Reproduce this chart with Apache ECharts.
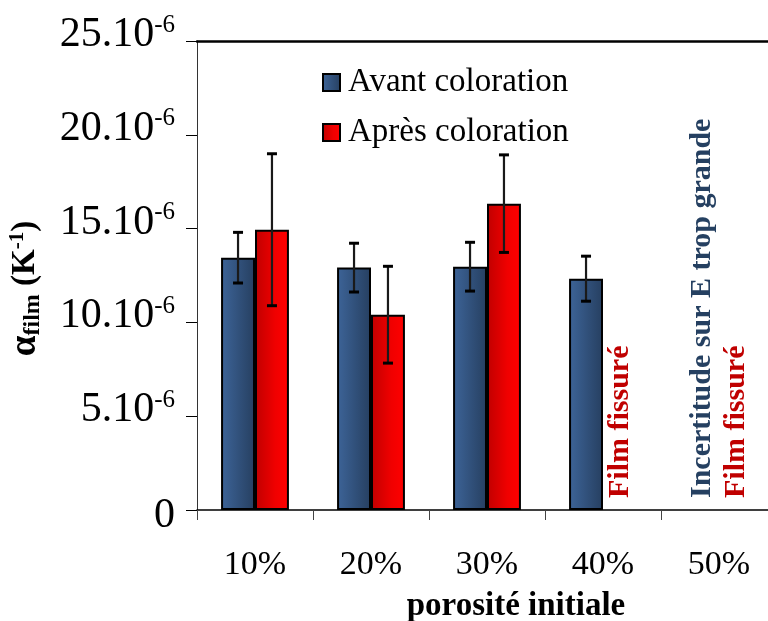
<!DOCTYPE html>
<html>
<head>
<meta charset="utf-8">
<script src="https://cdn.jsdelivr.net/npm/echarts@6/dist/echarts.min.js"></script>
<style>
  html, body { margin: 0; padding: 0; background: #fff; }
  #chart { width: 768px; height: 621px; }
</style>
</head>
<body>
<div id="chart"></div>
<script>
// Porosity classes on the x axis
const categories = ['10%', '20%', '30%', '40%', '50%'];
// Thermal expansion coefficient of the film, in units of 1e-6 K^-1
const avantValues = [13.45, 12.92, 12.97, 12.33, null];
const avantErrors = [1.35, 1.3, 1.3, 1.2, null];
const apresValues = [14.94, 10.41, 16.33, null, null];
const apresErrors = [4.05, 2.58, 2.6, null, null];
// Y axis ticks (1e-6 K^-1)
const yTicks = [0, 5, 10, 15, 20, 25];
// Notes written in place of missing bars: [category index, series (0 avant / 1 après), text, colour]
const notes = [
  [3, 1, 'Film fissuré', '#c00000'],
  [4, 0, 'Incertitude sur E trop grande', '#254061'],
  [4, 1, 'Film fissuré', '#c00000']
];

const SERIF = "'Liberation Serif', 'Times New Roman', serif";
const CAT_GAP = 0.415;          // share of each category left empty
const chart = echarts.init(document.getElementById('chart'));

// horizontal offset of a bar centre inside its category (series 0 left, 1 right)
function barOffset(api, seriesIdx) {
  const band = api.size([1, 0])[0];
  const bw = band * (1 - CAT_GAP) / 2;
  return (seriesIdx === 0 ? -1 : 1) * bw / 2;
}

function errorData(values, errs) {
  const out = [];
  values.forEach((v, i) => {
    if (v != null && errs[i] != null) out.push([i, v - errs[i], v + errs[i]]);
  });
  return out;
}

function errorSeries(values, errs, seriesIdx) {
  return {
    type: 'custom',
    z: 10,
    silent: true,
    data: errorData(values, errs),
    renderItem: function (params, api) {
      const off = barOffset(api, seriesIdx);
      const lo = api.coord([api.value(0), api.value(1)]);
      const hi = api.coord([api.value(0), api.value(2)]);
      const x = lo[0] + off;
      const cap = 5;
      return {
        type: 'group',
        children: [
          { type: 'line', shape: { x1: x, y1: lo[1], x2: x, y2: hi[1] },
            style: { stroke: '#1a1a1a', lineWidth: 2.2 } },
          { type: 'line', shape: { x1: x - cap, y1: lo[1], x2: x + cap, y2: lo[1] },
            style: { stroke: '#000', lineWidth: 3 } },
          { type: 'line', shape: { x1: x - cap, y1: hi[1], x2: x + cap, y2: hi[1] },
            style: { stroke: '#000', lineWidth: 3 } }
        ]
      };
    }
  };
}

const blueFill = new echarts.graphic.LinearGradient(0, 0, 1, 0, [
  { offset: 0, color: '#3d6498' }, { offset: 1, color: '#263f60' }
]);
const redFill = new echarts.graphic.LinearGradient(0, 0, 1, 0, [
  { offset: 0, color: '#c00000' }, { offset: 0.6, color: '#f00000' }, { offset: 1, color: '#ff0000' }
]);

const option = {
  animation: false,
  backgroundColor: '#fff',
  grid: { left: 197, top: 41, bottom: 111, right: -9, containLabel: false, outerBoundsMode: 'none' },
  legend: {
    orient: 'vertical',
    left: 317,
    top: 61,
    itemWidth: 17,
    itemHeight: 17,
    itemGap: 17,
    icon: 'rect',
    data: ['Avant coloration', 'Après coloration'],
    textStyle: { fontFamily: SERIF, fontSize: 33, color: '#000', lineHeight: 30, padding: [0, 0, 0, 3] }
  },
  xAxis: [{
    type: 'category',
    data: categories,
    axisLine: { lineStyle: { color: '#000', width: 1.5 } },
    axisTick: { show: true, length: 10, lineStyle: { color: '#444', width: 1 } },
    axisLabel: { fontFamily: SERIF, fontSize: 34, color: '#000', margin: 38 },
    name: 'porosité initiale',
    nameLocation: 'middle',
    nameGap: 80,
    nameTextStyle: { fontFamily: SERIF, fontSize: 33, fontWeight: 'bold', color: '#000', padding: [0, 0, 0, 58] }
  }, {
    type: 'category',
    position: 'top',
    data: categories,
    axisLine: { lineStyle: { color: '#000', width: 2.5 } },
    axisTick: { show: false },
    axisLabel: { show: false }
  }],
  yAxis: {
    type: 'value',
    min: yTicks[0],
    max: yTicks[yTicks.length - 1],
    interval: yTicks[1] - yTicks[0],
    splitLine: { show: false },
    axisLine: { show: true, lineStyle: { color: '#333', width: 1 } },
    axisTick: { show: true, length: 11, lineStyle: { color: '#000', width: 1 } },
    axisLabel: {
      margin: 22,
      formatter: function (v) {
        return v === 0 ? '{z|0}' : '{n|' + v + '.10}{s|-6}';
      },
      rich: {
        z: { fontFamily: SERIF, fontSize: 42, color: '#000', padding: [12, 0, 0, 0] },
        n: { fontFamily: SERIF, fontSize: 42, color: '#000', padding: [0, 0, 12, 0] },
        s: { fontFamily: SERIF, fontSize: 25, color: '#000', padding: [0, 0, 32, 0] }
      }
    },
    name: '{a|α}{f|film}{b| (K}{e|-1}{b|)}',
    nameLocation: 'middle',
    nameRotate: 90,
    nameGap: 152,
    nameTextStyle: {
      padding: [0, 26, 0, 0],
      rich: {
        a: { fontFamily: SERIF, fontSize: 37, fontWeight: 'bold', color: '#000' },
        f: { fontFamily: SERIF, fontSize: 24, fontWeight: 'bold', color: '#000', padding: [15, 0, 0, 0] },
        b: { fontFamily: SERIF, fontSize: 33, fontWeight: 'bold', color: '#000' },
        e: { fontFamily: SERIF, fontSize: 21, fontWeight: 'bold', color: '#000', padding: [0, 0, 15, 0] }
      }
    }
  },
  series: [
    {
      name: 'Avant coloration',
      type: 'bar',
      data: avantValues,
      barGap: '0%',
      barCategoryGap: (CAT_GAP * 100) + '%',
      itemStyle: { color: blueFill, borderColor: '#000', borderWidth: 2 }
    },
    {
      name: 'Après coloration',
      type: 'bar',
      data: apresValues,
      barGap: '0%',
      barCategoryGap: (CAT_GAP * 100) + '%',
      itemStyle: { color: redFill, borderColor: '#000', borderWidth: 2 }
    },
    errorSeries(avantValues, avantErrors, 0),
    errorSeries(apresValues, apresErrors, 1),
    {
      type: 'custom',
      silent: true,
      data: notes.map(n => [n[0], n[1]]),
      renderItem: function (params, api) {
        const n = notes[params.dataIndex];
        const base = api.coord([api.value(0), 0]);
        const x = base[0] + barOffset(api, api.value(1));
        return {
          type: 'text',
          x: x,
          y: base[1] - 12,
          rotation: Math.PI / 2,
          style: {
            text: n[2],
            fill: n[3],
            fontFamily: SERIF,
            fontSize: 30,
            fontWeight: 'bold',
            align: 'left',
            verticalAlign: 'middle'
          }
        };
      }
    }
  ]
};

chart.setOption(option);
</script>
</body>
</html>
